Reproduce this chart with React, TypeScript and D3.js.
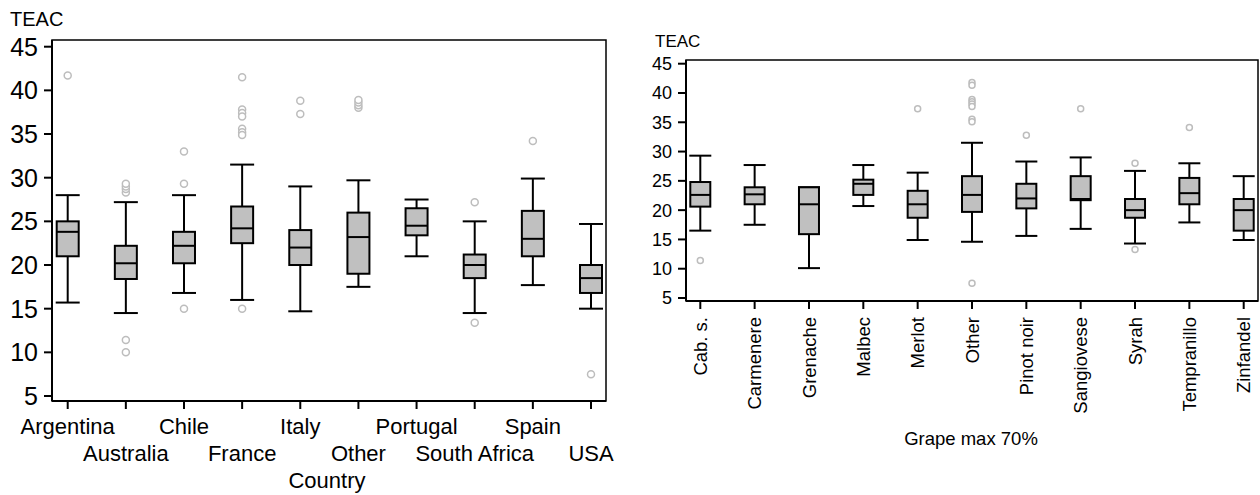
import React from "react";
import * as d3 from "d3";

// TEAC by country
const countries = ["Argentina", "Australia", "Chile", "France", "Italy", "Other", "Portugal", "South Africa", "Spain", "USA"];
const countryLow = [15.7, 14.5, 16.8, 16.0, 14.7, 17.5, 21.0, 14.5, 17.7, 15.0];
const countryQ1 = [21.0, 18.4, 20.2, 22.5, 20.0, 19.0, 23.4, 18.5, 21.0, 16.8];
const countryMedian = [23.8, 20.2, 22.2, 24.2, 22.0, 23.2, 24.5, 20.0, 23.0, 18.5];
const countryQ3 = [25.0, 22.2, 23.8, 26.7, 24.0, 26.0, 26.5, 21.2, 26.2, 20.0];
const countryHigh = [28.0, 27.2, 28.0, 31.5, 29.0, 29.7, 27.5, 25.0, 29.9, 24.7];
const countryOutliers = [
  [41.7],
  [28.3, 28.7, 29.0, 29.3, 11.4, 10.0],
  [33.0, 29.3, 15.0],
  [41.5, 37.8, 37.4, 37.0, 35.6, 35.2, 34.9, 15.0],
  [38.8, 37.3],
  [38.0, 38.3, 38.6, 38.9],
  [],
  [27.2, 13.4],
  [34.2],
  [7.5],
];

// TEAC by grape (max 70%)
const grapes = ["Cab. s.", "Carmenere", "Grenache", "Malbec", "Merlot", "Other", "Pinot noir", "Sangiovese", "Syrah", "Tempranillo", "Zinfandel"];
const grapeLow = [16.5, 17.5, 10.1, 20.7, 14.9, 14.6, 15.6, 16.8, 14.3, 17.9, 14.9];
const grapeQ1 = [20.6, 21.0, 15.9, 22.6, 18.7, 19.7, 20.3, 21.7, 18.7, 21.0, 16.5];
const grapeMedian = [22.6, 22.7, 21.0, 24.5, 21.0, 22.6, 22.0, 21.9, 20.0, 22.9, 20.0];
const grapeQ3 = [24.8, 23.9, 23.9, 25.2, 23.3, 25.8, 24.5, 25.8, 21.9, 25.5, 21.9];
const grapeHigh = [29.3, 27.7, 23.9, 27.7, 26.4, 31.5, 28.3, 29.0, 26.7, 28.0, 25.8];
const grapeOutliers = [
  [11.4],
  [],
  [],
  [],
  [37.3],
  [41.8, 41.3, 38.9, 38.5, 38.1, 37.7, 35.5, 35.1, 7.5],
  [32.8],
  [37.3],
  [28.0, 13.3],
  [34.1],
  [],
];

const yTicks = [5, 10, 15, 20, 25, 30, 35, 40, 45];

const FONT = "'Liberation Sans', Arial, sans-serif";

type PanelProps = {
  cats: string[];
  low: number[];
  q1: number[];
  med: number[];
  q3: number[];
  high: number[];
  outliers: number[][];
  frame: { x0: number; x1: number; y0: number; y1: number };
  yRange: [number, number];
  xRange: [number, number];
  tickFont: number;
  labelFont: number;
  boxW: number;
  capW: number;
  r: number;
  teac: { x: number; y: number; size: number };
  title: { text: string; x: number; y: number; size: number };
  rotated?: boolean;
  rowY?: [number, number];
  labelTop?: number;
};

const BoxPanel = (p: PanelProps) => {
  const y = d3.scaleLinear().domain([5, 45]).range(p.yRange);
  const x = d3.scalePoint<string>().domain(p.cats).range(p.xRange);
  const { x0, x1, y0, y1 } = p.frame;

  return (
    <g>
      <text x={p.teac.x} y={p.teac.y} fontSize={p.teac.size} fontFamily={FONT}>TEAC</text>
      {/* frame */}
      <rect x={x0} y={y0} width={x1 - x0} height={y1 - y0} fill="none" stroke="#000" strokeWidth={1.5} />
      <line x1={x0} x2={x0} y1={y0} y2={y1} stroke="#000" strokeWidth={2} />
      <line x1={x0} x2={x1} y1={y1} y2={y1} stroke="#000" strokeWidth={2} />
      {/* y axis */}
      {yTicks.map((t) => (
        <g key={t}>
          <line x1={x0 - 8} x2={x0} y1={y(t)} y2={y(t)} stroke="#000" strokeWidth={2} />
          <text x={x0 - 14} y={y(t)} dy="0.36em" textAnchor="end" fontSize={p.tickFont} fontFamily={FONT}>{t}</text>
        </g>
      ))}
      {/* x axis */}
      {p.cats.map((c, i) => {
        const cx = x(c)!;
        return (
          <g key={c}>
            <line x1={cx} x2={cx} y1={y1} y2={y1 + 8} stroke="#000" strokeWidth={2} />
            {p.rotated ? (
              <text transform={`translate(${cx},${p.labelTop}) rotate(-90)`} textAnchor="end" dy="0.36em" fontSize={p.labelFont} fontFamily={FONT}>{c}</text>
            ) : (
              <text x={cx} y={p.rowY![i % 2]} textAnchor="middle" fontSize={p.labelFont} fontFamily={FONT}>{c}</text>
            )}
          </g>
        );
      })}
      <text x={p.title.x} y={p.title.y} textAnchor="middle" fontSize={p.title.size} fontFamily={FONT}>{p.title.text}</text>
      {/* boxes */}
      {p.cats.map((c, i) => {
        const cx = x(c)!;
        return (
          <g key={"b" + c}>
            <line x1={cx} x2={cx} y1={y(p.high[i])} y2={y(p.q3[i])} stroke="#000" strokeWidth={2} />
            <line x1={cx} x2={cx} y1={y(p.q1[i])} y2={y(p.low[i])} stroke="#000" strokeWidth={2} />
            <line x1={cx - p.capW / 2} x2={cx + p.capW / 2} y1={y(p.high[i])} y2={y(p.high[i])} stroke="#000" strokeWidth={2} />
            <line x1={cx - p.capW / 2} x2={cx + p.capW / 2} y1={y(p.low[i])} y2={y(p.low[i])} stroke="#000" strokeWidth={2} />
            <rect x={cx - p.boxW / 2} y={y(p.q3[i])} width={p.boxW} height={y(p.q1[i]) - y(p.q3[i])} fill="#c0c0c0" stroke="#000" strokeWidth={2} />
            <line x1={cx - p.boxW / 2} x2={cx + p.boxW / 2} y1={y(p.med[i])} y2={y(p.med[i])} stroke="#000" strokeWidth={2} />
            {p.outliers[i].map((o, j) => (
              <circle key={j} cx={cx} cy={y(o)} r={p.r} fill="#fff" stroke="#bdbdbd" strokeWidth={1.5} />
            ))}
          </g>
        );
      })}
    </g>
  );
};

export default function App() {
  return (
    <svg width={1260} height={495} style={{ position: "absolute", left: 0, top: 0, background: "#fff" }}>
      <BoxPanel
        cats={countries}
        low={countryLow}
        q1={countryQ1}
        med={countryMedian}
        q3={countryQ3}
        high={countryHigh}
        outliers={countryOutliers}
        frame={{ x0: 52, x1: 606, y0: 40, y1: 401 }}
        yRange={[396, 46.7]}
        xRange={[67.7, 591]}
        tickFont={25}
        labelFont={22}
        boxW={22}
        capW={24}
        r={3.5}
        teac={{ x: 10, y: 26, size: 20 }}
        title={{ text: "Country", x: 327, y: 488, size: 22 }}
        rowY={[434, 461]}
      />
      <BoxPanel
        cats={grapes}
        low={grapeLow}
        q1={grapeQ1}
        med={grapeMedian}
        q3={grapeQ3}
        high={grapeHigh}
        outliers={grapeOutliers}
        frame={{ x0: 686, x1: 1258, y0: 60, y1: 301 }}
        yRange={[298, 63.7]}
        xRange={[700.3, 1243.7]}
        tickFont={18}
        labelFont={18.5}
        boxW={20}
        capW={22}
        r={3}
        teac={{ x: 655, y: 47, size: 17 }}
        title={{ text: "Grape max 70%", x: 971, y: 445, size: 18.5 }}
        rotated
        labelTop={317}
      />
    </svg>
  );
}
